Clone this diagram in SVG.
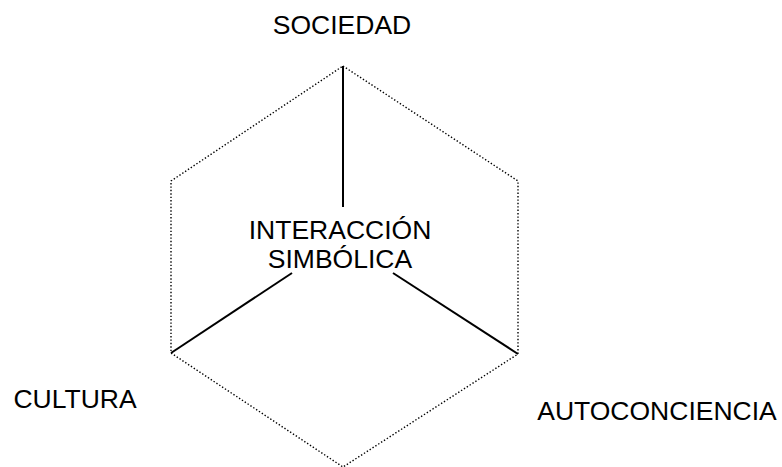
<svg xmlns="http://www.w3.org/2000/svg" width="782" height="467" viewBox="0 0 782 467">
<style>
.lbl{font-family:"Liberation Sans",Arial,sans-serif;font-size:26.5px;fill:#000;text-anchor:middle}
.dot{fill:none;stroke:#000;stroke-width:1.4;stroke-dasharray:1.4 2}
.sol{fill:none;stroke:#000;stroke-width:2}
</style>
<rect width="782" height="467" fill="#fff"/>
<g id="connectors">
<polyline class="dot" points="343,66 518,181 518,354 343,467 171,353 171,181 343,66"/>
<line class="sol" x1="343" y1="66" x2="343" y2="207"/>
<line class="sol" x1="171" y1="353" x2="292" y2="273"/>
<line class="sol" x1="518" y1="354" x2="393" y2="273"/>
</g>
<g id="sociedad"><text class="lbl" x="342" y="34">SOCIEDAD</text></g>
<g id="interaccion"><text class="lbl" x="340" y="239">INTERACCIÓN</text><text class="lbl" x="340" y="268">SIMBÓLICA</text></g>
<g id="cultura"><text class="lbl" x="75" y="408">CULTURA</text></g>
<g id="autoconciencia"><text class="lbl" x="657" y="420">AUTOCONCIENCIA</text></g>
</svg>
